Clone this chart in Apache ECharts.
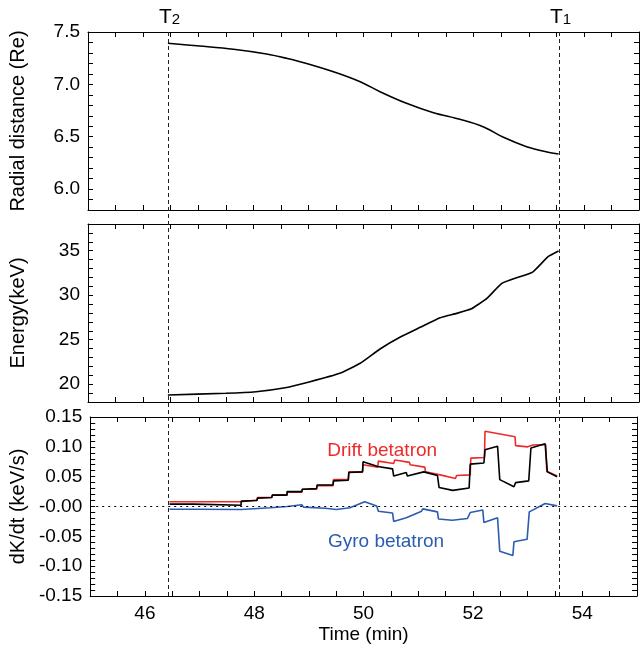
<!DOCTYPE html>
<html>
<head>
<meta charset="utf-8">
<script src="https://cdn.jsdelivr.net/npm/echarts@6/dist/echarts.min.js"></script>
<style>
html,body{margin:0;padding:0;background:#fff;}
#chart{width:640px;height:648px;}
</style>
</head>
<body>
<div id="chart"></div>
<script>
// ---------------- DATA ----------------
const T2 = 46.45;
const T1 = 53.54;

// Radial distance (Re)
const radT = [46.45, 47.03, 47.64, 48.24, 48.6, 49.03, 49.51, 49.94, 50.3, 50.78, 51.27, 51.75, 52.17, 52.54, 52.96, 53.33, 53.54];
const radV = [7.392, 7.366, 7.335, 7.29, 7.249, 7.19, 7.111, 7.025, 6.93, 6.819, 6.729, 6.666, 6.596, 6.494, 6.405, 6.354, 6.335];

// Energy (keV)
const enT = [46.45, 47.5, 48.05, 48.55, 49.03, 49.57, 49.94, 50.3, 50.66, 51.03, 51.39, 51.69, 51.96, 52.24, 52.51, 52.78, 53.07, 53.35, 53.54];
const enV = [18.79, 18.98, 19.16, 19.57, 20.28, 21.22, 22.35, 23.96, 25.27, 26.39, 27.47, 27.96, 28.48, 29.65, 31.33, 31.97, 32.6, 34.33, 34.97];

// dK/dt total (black)
const netT = [46.45, 46.9, 46.9, 47.76, 47.76, 48.05, 48.06, 48.32, 48.33, 48.6, 48.6, 48.87, 48.88, 49.14, 49.15, 49.44, 49.45, 49.72, 49.73, 49.98, 49.99, 50.26, 50.53, 50.55, 50.78, 50.8, 51.1, 51.35, 51.38, 51.63, 51.93, 51.95, 52.2, 52.22, 52.45, 52.49, 52.75, 52.78, 53.02, 53.06, 53.32, 53.36, 53.54];
const netV = [0.004, 0.004, 0.002, 0.002, 0.009, 0.010, 0.014, 0.015, 0.019, 0.019, 0.025, 0.025, 0.029, 0.030, 0.036, 0.036, 0.043, 0.044, 0.057, 0.058, 0.075, 0.067, 0.063, 0.051, 0.057, 0.051, 0.058, 0.052, 0.032, 0.027, 0.031, 0.071, 0.073, 0.095, 0.101, 0.045, 0.033, 0.040, 0.043, 0.098, 0.105, 0.058, 0.050];

// Drift betatron (red)
const driftT = [46.45, 47.76, 47.77, 48.05, 48.06, 48.32, 48.33, 48.6, 48.61, 48.87, 48.88, 49.14, 49.15, 49.44, 49.45, 49.72, 49.73, 49.98, 49.99, 50.26, 50.27, 50.55, 50.57, 50.84, 50.85, 51.12, 51.13, 51.4, 51.68, 51.7, 51.95, 51.96, 52.21, 52.22, 52.77, 52.78, 53.0, 53.1, 53.33, 53.35, 53.54];
const driftV = [0.008, 0.008, 0.011, 0.011, 0.015, 0.015, 0.019, 0.020, 0.024, 0.024, 0.029, 0.029, 0.035, 0.035, 0.045, 0.045, 0.058, 0.058, 0.070, 0.066, 0.076, 0.072, 0.078, 0.074, 0.070, 0.066, 0.058, 0.053, 0.047, 0.052, 0.053, 0.081, 0.082, 0.126, 0.117, 0.102, 0.100, 0.103, 0.104, 0.059, 0.051];

// Gyro betatron (blue)
const gyroT = [46.45, 46.93, 46.95, 47.76, 47.77, 48.3, 48.6, 48.87, 48.9, 49.3, 49.5, 49.75, 50.02, 50.24, 50.27, 50.53, 50.55, 50.78, 50.8, 51.06, 51.08, 51.35, 51.37, 51.62, 51.64, 51.9, 51.95, 52.18, 52.2, 52.45, 52.49, 52.73, 52.75, 52.99, 53.03, 53.32, 53.54];
const gyroV = [-0.0045, -0.0045, -0.006, -0.005, -0.003, -0.002, 0.0, 0.003, -0.001, -0.003, -0.005, -0.002, 0.008, 0.001, -0.008, -0.011, -0.025, -0.019, -0.022, -0.008, -0.004, -0.009, -0.021, -0.023, -0.026, -0.020, -0.010, -0.006, -0.027, -0.019, -0.075, -0.082, -0.059, -0.055, -0.009, 0.005, 0.001];

// axis ranges
const xRange = [45, 55];
const radRange = [5.8, 7.5];
const enRange = [18, 38];
const dkRange = [-0.15, 0.15];

const driftLabel = 'Drift betatron';
const gyroLabel = 'Gyro betatron';
const driftLabelPos = [50.34, 0.094];
const gyroLabelPos = [50.41, -0.059];

// ---------------- CHART ----------------
const zip = (a, b) => a.map((v, i) => [v, b[i]]);
const FONT = '"Liberation Sans", Arial, Helvetica, sans-serif';
const RED = '#ee2a2a';
const BLUE = '#2b5cb0';

const grids = [
  {left: 88, right: 1, top: 32, height: 178},
  {left: 88, right: 1, top: 224, height: 178},
  {left: 88, right: 1, top: 417, height: 179}
];

function xAxisDef(g, pos, showLabel) {
  return {
    type: 'value', gridIndex: g, position: pos, min: xRange[0], max: xRange[1], interval: 0.5,
    axisLine: {show: true, onZero: false, lineStyle: {color: '#000', width: 1}},
    axisTick: {show: true, inside: true, length: 5, lineStyle: {color: '#000'}},
    splitLine: {show: false},
    axisLabel: {
      show: showLabel, margin: 8, color: '#000', fontSize: 19, fontFamily: FONT,
      formatter: v => (Math.abs(v % 2) < 1e-6 ? String(Math.round(v)) : '')
    },
    name: showLabel ? 'Time (min)' : '', nameLocation: 'middle', nameGap: 29,
    nameTextStyle: {color: '#000', fontSize: 19, fontFamily: FONT}
  };
}
function yAxisDef(g, pos, range, interval, labelFn, name) {
  const show = pos === 'left';
  return {
    type: 'value', gridIndex: g, position: pos, min: range[0], max: range[1], interval: interval,
    axisLine: {show: true, onZero: false, lineStyle: {color: '#000', width: 1}},
    axisTick: {show: true, inside: true, length: 5, lineStyle: {color: '#000'}},
    splitLine: {show: false},
    axisLabel: {show: show, margin: 8, color: '#000', fontSize: 19, fontFamily: FONT, formatter: labelFn},
    name: show ? name : '', nameLocation: 'middle', nameGap: 60, nameRotate: 90,
    nameTextStyle: {color: '#000', fontSize: 20, fontFamily: FONT}
  };
}
const radFmt = v => { const k = Math.round(v * 10); return k % 5 === 0 ? (k / 10).toFixed(1) : ''; };
const enFmt = v => { const k = Math.round(v); return k % 5 === 0 ? String(k) : ''; };
const dkFmt = v => { const k = Math.round(v * 100); if (k % 5 !== 0) return ''; if (k === 0) return '-0.00'; return (k / 100).toFixed(2); };

const option = {
  animation: false,
  backgroundColor: '#fff',
  grid: grids,
  xAxis: [
    xAxisDef(0, 'bottom', false), xAxisDef(1, 'bottom', false), xAxisDef(2, 'bottom', true),
    xAxisDef(0, 'top', false), xAxisDef(1, 'top', false), xAxisDef(2, 'top', false)
  ],
  yAxis: [
    yAxisDef(0, 'left', radRange, 0.1, radFmt, 'Radial distance (Re)'),
    yAxisDef(1, 'left', enRange, 1, enFmt, 'Energy(keV)'),
    yAxisDef(2, 'left', dkRange, 0.01, dkFmt, 'dK/dt (keV/s)'),
    yAxisDef(0, 'right', radRange, 0.1, radFmt, ''),
    yAxisDef(1, 'right', enRange, 1, enFmt, ''),
    yAxisDef(2, 'right', dkRange, 0.01, dkFmt, '')
  ],
  series: [
    {type: 'line', xAxisIndex: 0, yAxisIndex: 0, data: zip(radT, radV), smooth: 0.35, showSymbol: false, symbol: 'none',
     lineStyle: {color: '#000', width: 1.6}},
    {type: 'line', xAxisIndex: 1, yAxisIndex: 1, data: zip(enT, enV), smooth: 0.15, showSymbol: false, symbol: 'none',
     lineStyle: {color: '#000', width: 1.6}},
    {type: 'line', xAxisIndex: 2, yAxisIndex: 2, data: zip(driftT, driftV), showSymbol: false, symbol: 'none',
     lineStyle: {color: RED, width: 1.6}},
    {type: 'line', xAxisIndex: 2, yAxisIndex: 2, data: zip(netT, netV), showSymbol: false, symbol: 'none',
     lineStyle: {color: '#000', width: 1.6}},
    {type: 'line', xAxisIndex: 2, yAxisIndex: 2, data: zip(gyroT, gyroV), showSymbol: false, symbol: 'none',
     lineStyle: {color: BLUE, width: 1.6},
     markLine: {silent: true, symbol: 'none', label: {show: false},
       lineStyle: {color: '#000', type: [2, 4], width: 1}, data: [{yAxis: 0}]}}
  ]
};

const chart = echarts.init(document.getElementById('chart'), null, {renderer: 'canvas'});
chart.setOption(option);

// overlays computed through the library's scales
const yTop = chart.convertToPixel({yAxisIndex: 0}, radRange[1]);
const yBot = chart.convertToPixel({yAxisIndex: 2}, dkRange[0]);
const graphics = [];
[[T2, '2'], [T1, '1']].forEach(([t, sub]) => {
  const x = Math.round(chart.convertToPixel({xAxisIndex: 0}, t)) + 0.5;
  graphics.push({type: 'line', silent: true, z: 50,
    shape: {x1: x, y1: yTop, x2: x, y2: yBot},
    style: {stroke: '#222', lineWidth: 1, lineDash: [4, 3]}});
  graphics.push({type: 'text', silent: true, z: 50, x: x + 1, y: yTop - 4,
    style: {text: '{a|T}{b|' + sub + '}', align: 'center', verticalAlign: 'bottom',
      rich: {a: {fontSize: 21, fontFamily: FONT, fill: '#000'},
             b: {fontSize: 15, fontFamily: FONT, fill: '#000', verticalAlign: 'bottom', padding: [0, 0, 1, 0]}}}});
});
const dp = chart.convertToPixel({seriesIndex: 2}, driftLabelPos);
const gp = chart.convertToPixel({seriesIndex: 2}, gyroLabelPos);
graphics.push({type: 'text', silent: true, z: 50, x: dp[0], y: dp[1],
  style: {text: driftLabel, fill: RED, font: '19px ' + FONT, align: 'center', verticalAlign: 'middle'}});
graphics.push({type: 'text', silent: true, z: 50, x: gp[0], y: gp[1],
  style: {text: gyroLabel, fill: BLUE, font: '19px ' + FONT, align: 'center', verticalAlign: 'middle'}});
chart.setOption({graphic: graphics});
</script>
</body>
</html>
